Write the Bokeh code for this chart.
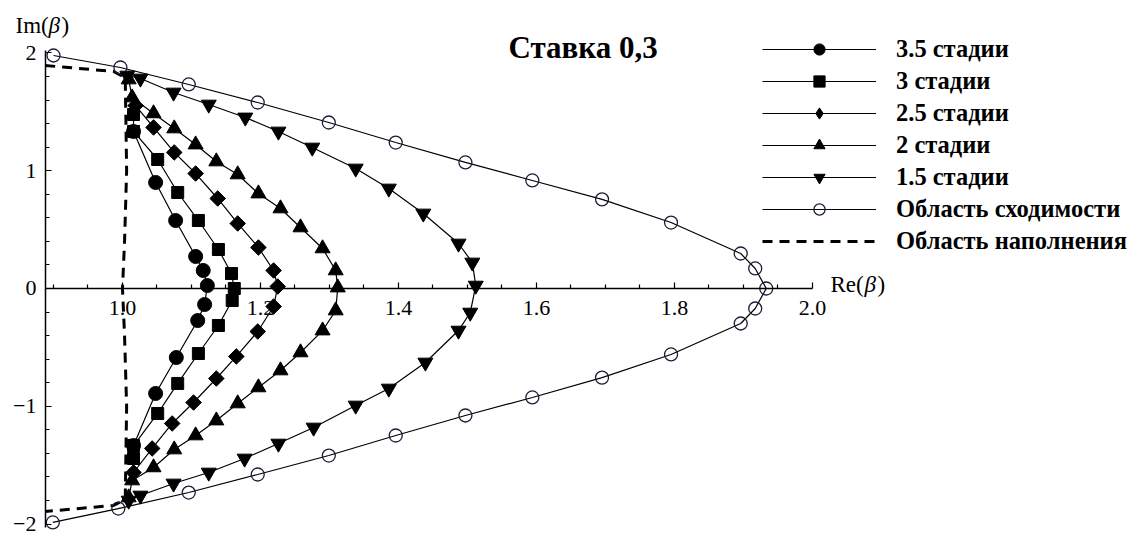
import math
from bokeh.plotting import figure
from bokeh.models import (Range1d, FixedTicker, Legend, LegendItem, Label,
                          NumeralTickFormatter, CustomJSTickFormatter)
from bokeh.embed import file_html
from bokeh.resources import INLINE

# ---- data: roots of the characteristic equation, beta = Re + i*Im ----
re_35 = [1.016, 1.048, 1.077, 1.106, 1.117, 1.123, 1.119, 1.109, 1.078, 1.048, 1.016]
im_35 = [1.333, 0.900, 0.577, 0.272, 0.153, 0.025, -0.136, -0.272, -0.586, -0.891, -1.333]

re_30 = [1.016, 1.016, 1.051, 1.080, 1.110, 1.139, 1.158, 1.162, 1.159, 1.139, 1.110, 1.080, 1.051, 1.016, 1.016]
im_30 = [1.477, 1.333, 1.095, 0.815, 0.577, 0.331, 0.127, 0.000, -0.102, -0.314, -0.552, -0.806, -1.061, -1.333, -1.443]

re_25 = [1.019, 1.045, 1.075, 1.106, 1.138, 1.167, 1.197, 1.219, 1.225, 1.219, 1.196, 1.165, 1.136, 1.103, 1.072, 1.043, 1.016]
im_25 = [1.553, 1.367, 1.155, 0.976, 0.764, 0.552, 0.348, 0.153, 0.017, -0.153, -0.365, -0.577, -0.764, -0.968, -1.146, -1.358, -1.562]

re_20 = [1.009, 1.014, 1.045, 1.075, 1.106, 1.136, 1.167, 1.197, 1.229, 1.258, 1.290, 1.309, 1.312,
         1.309, 1.290, 1.258, 1.229, 1.197, 1.167, 1.136, 1.106, 1.075, 1.045, 1.014, 1.009]
im_20 = [1.774, 1.621, 1.486, 1.358, 1.222, 1.078, 0.968, 0.806, 0.679, 0.518, 0.340, 0.153, 0.008,
         -0.187, -0.357, -0.543, -0.696, -0.840, -0.976, -1.121, -1.248, -1.367, -1.519, -1.630, -1.774]

re_15 = [1.007, 1.026, 1.074, 1.125, 1.178, 1.226, 1.275, 1.338, 1.386, 1.436, 1.487, 1.507, 1.512,
         1.504, 1.487, 1.439, 1.386, 1.338, 1.277, 1.226, 1.177, 1.125, 1.074, 1.026, 1.009]
im_15 = [1.808, 1.783, 1.664, 1.562, 1.452, 1.333, 1.197, 1.019, 0.849, 0.637, 0.382, 0.221, 0.025,
         -0.204, -0.357, -0.628, -0.849, -0.993, -1.180, -1.316, -1.443, -1.562, -1.655, -1.757, -1.800]

# convergence region boundary
re_conv = [0.900, 0.997, 1.096, 1.196, 1.299, 1.396, 1.497, 1.594, 1.695, 1.795, 1.896, 1.917, 1.933,
           1.917, 1.896, 1.795, 1.695, 1.594, 1.497, 1.396, 1.299, 1.196, 1.096, 0.994, 0.899]
im_conv = [1.978, 1.876, 1.732, 1.579, 1.409, 1.239, 1.070, 0.917, 0.757, 0.560, 0.297, 0.170, 0.000,
           -0.170, -0.297, -0.560, -0.757, -0.925, -1.078, -1.248, -1.418, -1.579, -1.732, -1.868, -1.986]

# filling region boundary
re_fill = [0.888, 0.987, 1.004, 1.006, 1.003, 1.000, 1.003, 1.006, 1.004, 0.987, 0.888]
im_fill = [1.893, 1.842, 1.791, 1.000, 0.400, 0.000, -0.400, -1.000, -1.791, -1.842, -1.893]

x_ticks = [1.0, 1.2, 1.4, 1.6, 1.8, 2.0]
x_minor = [0.9, 0.95, 1.05, 1.1, 1.15, 1.25, 1.3, 1.35, 1.45, 1.5, 1.55, 1.65, 1.7, 1.75, 1.85, 1.9, 1.95]
y_ticks = [-2, -1, 0, 1, 2]
y_minor = [-1.8, -1.6, -1.4, -1.2, -0.8, -0.6, -0.4, -0.2, 0.2, 0.4, 0.6, 0.8, 1.2, 1.4, 1.6, 1.8]

x_origin = 0.8884

SERIF = "Liberation Serif"

p = figure(width=1136, height=535,
           x_range=Range1d(0.8232, 2.4696), y_range=Range1d(-2.0968, 2.4448),
           output_backend="svg", toolbar_location=None, min_border=0)
p.outline_line_color = None
p.grid.visible = False
p.background_fill_color = "white"
p.border_fill_color = "white"

# axes crossing inside the frame
xa = p.xaxis[0]
xa.fixed_location = 0
xa.bounds = (x_origin, 2.0)
xa.ticker = FixedTicker(ticks=x_ticks, minor_ticks=x_minor)
xa.formatter = NumeralTickFormatter(format="0.0")
xa.major_label_standoff = 13

ya = p.yaxis[0]
ya.fixed_location = x_origin
ya.bounds = (-2.03, 2.02)
ya.ticker = FixedTicker(ticks=y_ticks, minor_ticks=y_minor)
ya.formatter = CustomJSTickFormatter(code="return tick < 0 ? '\u2212' + Math.abs(tick) : String(tick);")
ya.major_label_standoff = 9

for ax in (xa, ya):
    ax.axis_line_color = "black"
    ax.axis_line_width = 1.5
    ax.major_tick_in = 6
    ax.major_tick_out = 0
    ax.minor_tick_in = 4
    ax.minor_tick_out = 0
    ax.major_tick_line_color = "black"
    ax.minor_tick_line_color = "black"
    ax.major_tick_line_width = 1.2
    ax.minor_tick_line_width = 1.2
    ax.major_label_text_font = SERIF
    ax.major_label_text_font_size = "22px"
    ax.major_label_text_color = "black"

LW = 1.2

# filling region (dashed)
r_fill = p.line(re_fill, im_fill, line_color="black", line_width=3, line_dash="10 7")

# convergence region
l_conv = p.line(re_conv, im_conv, line_color="black", line_width=LW)
s_conv = p.scatter(re_conv, im_conv, marker="circle", size=13, fill_color=None,
                   line_color="#1c1c3c", line_width=1.3)

series = [
    (re_15, im_15, "inverted_triangle", 15, 0.0),
    (re_20, im_20, "triangle", 15, 0.0),
    (re_25, im_25, "square", 11, math.pi / 4),
    (re_30, im_30, "square", 12, 0.0),
    (re_35, im_35, "circle", 14, 0.0),
]
rends = []
for xs, ys, mk, sz, ang in series:
    ln = p.line(xs, ys, line_color="black", line_width=LW)
    sc = p.scatter(xs, ys, marker=mk, size=sz, angle=ang, fill_color="black", line_color="black")
    rends.append((ln, sc))

(l15, s15), (l20, s20), (l25, s25), (l30, s30), (l35, s35) = rends

# legend key for the 2.5 series: a hidden diamond renderer (the plotted marks are rotated squares)
key_25 = p.scatter(re_25, im_25, marker="diamond", size=14, fill_color="black",
                   line_color="black", visible=False)

legend = Legend(items=[
    LegendItem(label="3.5 стадии", renderers=[l35, s35]),
    LegendItem(label="3 стадии", renderers=[l30, s30]),
    LegendItem(label="2.5 стадии", renderers=[l25, key_25]),
    LegendItem(label="2 стадии", renderers=[l20, s20]),
    LegendItem(label="1.5 стадии", renderers=[l15, s15]),
    LegendItem(label="Область сходимости", renderers=[l_conv, s_conv]),
    LegendItem(label="Область наполнения", renderers=[r_fill]),
], location=(762, 280), orientation="vertical",
    glyph_width=114, glyph_height=28, label_height=28, spacing=4,
    padding=6, margin=0, label_standoff=20,
    label_text_font=SERIF, label_text_font_style="bold",
    label_text_font_size="24.5px", label_text_color="black",
    inactive_fill_alpha=0.0,
    border_line_color=None, background_fill_color="white", background_fill_alpha=1.0)
p.add_layout(legend)

H = 535

def put(text, x, y_mid, size, style="normal"):
    p.add_layout(Label(x=x, y=H - y_mid, x_units="screen", y_units="screen", text=text,
                       text_font=SERIF, text_font_size=size, text_font_style=style,
                       text_color="black", text_baseline="middle", text_align="left"))

# axis titles
put("Im(", 15, 25, "23px")
put("\u03b2", 48, 25, "23px", "italic")
put(")", 61, 25, "23px")
put("Re(", 830, 284, "23px")
put("\u03b2", 864, 284, "23px", "italic")
put(")", 877, 284, "23px")

# chart title
put("Ставка 0,3", 508, 47, "31px", "bold")

open("out.html", "w").write(file_html(p, INLINE))
